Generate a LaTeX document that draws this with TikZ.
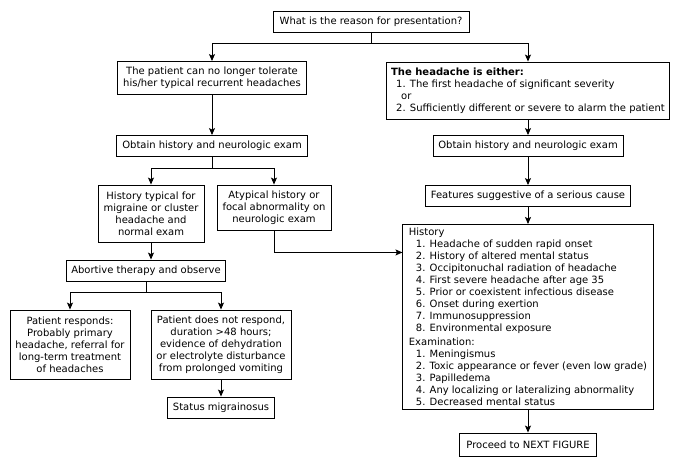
\documentclass[tikz,border=0pt]{standalone}
\usepackage{fontspec}
\setmainfont{DejaVu Sans}
\usetikzlibrary{arrows.meta}
\begin{document}
\begin{tikzpicture}[x=1pt,y=-1pt,
  box/.style={draw, line width=0.9pt, font=\fontsize{10}{12}\selectfont, align=center, inner xsep=5pt, inner ysep=0pt},
  arr/.style={-{Stealth[length=7pt,width=6pt,inset=1.5pt]}, line width=0.9pt},
  ln/.style={line width=0.9pt}]
\useasboundingbox (0,0) rectangle (683,467);
% top question
\node[box, minimum width=196, minimum height=21] (q) at (371,21.5) {What is the reason for presentation?};
\node[box, minimum width=189, minimum height=33] (tol) at (212,78) {The patient can no longer tolerate\\his/her typical recurrent headaches};
\node[box, align=left, minimum height=57] (head) at (528,90.5) {\textbf{The headache is either:}\\
\hspace*{5pt}1. The first headache of significant severity\\
\hspace*{10pt}or\\
\hspace*{5pt}2. Sufficiently different or severe to alarm the patient};
\draw[ln] (q.south) -- ++(0,10.5) coordinate (qsplit);
\draw[arr] (qsplit) -| (tol.north);
\draw[arr] (qsplit) -| (head.north);
% left side
\node[box, minimum width=191, minimum height=21] (obtL) at (212,146) {Obtain history and neurologic exam};
\draw[arr] (tol) -- (obtL);
\node[box, minimum width=106, minimum height=57] (typ) at (151,213.5) {History typical for\\migraine or cluster\\headache and\\normal exam};
\node[box, minimum width=114, minimum height=45] (atyp) at (274,207.5) {Atypical history or\\focal abnormality on\\neurologic exam};
\draw[ln] (obtL.south) -- ++(0,11) coordinate (lsplit);
\draw[arr] (lsplit) -| (typ.north);
\draw[arr] (lsplit) -| (atyp.north);
\node[box, minimum width=159, minimum height=21] (abort) at (146,270.5) {Abortive therapy and observe};
\draw[arr] (typ.south) -- (typ.south |- abort.north);
\node[box, minimum width=120, minimum height=69] (resp) at (70,344.5) {Patient responds:\\Probably primary\\headache, referral for\\long-term treatment\\of headaches};
\node[box, minimum width=140, minimum height=69] (noresp) at (221,344.5) {Patient does not respond,\\duration >48 hours;\\evidence of dehydration\\or electrolyte disturbance\\from prolonged vomiting};
\draw[ln] (abort.south) -- ++(0,11) coordinate (asplit);
\draw[arr] (asplit) -| (resp.north);
\draw[arr] (asplit) -| (noresp.north);
\node[box, minimum width=107, minimum height=21] (status) at (221,407.5) {Status migrainosus};
\draw[arr] (noresp) -- (status);
% right side
\node[box, minimum width=190, minimum height=21] (obtR) at (528,146) {Obtain history and neurologic exam};
\draw[arr] (head) -- (obtR);
\node[box, minimum width=204, minimum height=21] (feat) at (528,196) {Features suggestive of a serious cause};
\draw[arr] (obtR) -- (feat);
\node[box, anchor=north, align=left, inner xsep=6pt, inner ysep=3.5pt, font=\fontsize{10}{12}\selectfont] (big) at (528,224) {History\\
\hspace*{7pt}1. Headache of sudden rapid onset\\
\hspace*{7pt}2. History of altered mental status\\
\hspace*{7pt}3. Occipitonuchal radiation of headache\\
\hspace*{7pt}4. First severe headache after age 35\\
\hspace*{7pt}5. Prior or coexistent infectious disease\\
\hspace*{7pt}6. Onset during exertion\\
\hspace*{7pt}7. Immunosuppression\\
\hspace*{7pt}8. Environmental exposure\\[2pt]
Examination:\\
\hspace*{7pt}1. Meningismus\\
\hspace*{7pt}2. Toxic appearance or fever (even low grade)\\
\hspace*{7pt}3. Papilledema\\
\hspace*{7pt}4. Any localizing or lateralizing abnormality\\
\hspace*{7pt}5. Decreased mental status};
\draw[arr] (feat) -- (big);
\draw[arr] (atyp.south) -- ++(0,22) coordinate (atypbend) -- (atypbend -| big.west);
\node[box, minimum width=137, minimum height=23] (next) at (528,444.5) {Proceed to NEXT FIGURE};
\draw[arr] (big) -- (next);
\end{tikzpicture}
\end{document}
